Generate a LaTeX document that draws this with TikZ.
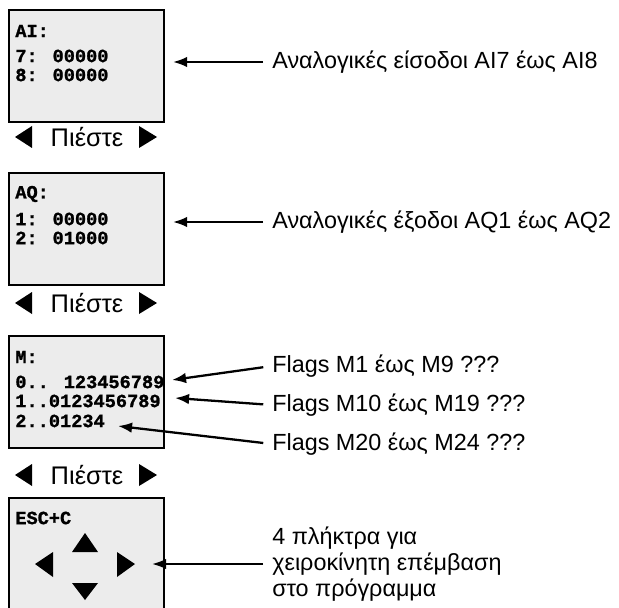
\documentclass[tikz,border=0pt]{standalone}
\usepackage{fontspec}
\setmainfont{Liberation Sans}
\newfontfamily\lcdfont{Liberation Mono}[FakeBold=1.2]
\usepackage{xcolor}
\usetikzlibrary{positioning,arrows.meta}
\definecolor{cScreen}{RGB}{236,236,236}

\tikzset{
  screen/.style={draw, line width=1pt, fill=cScreen, anchor=north west,
    minimum width=3.1cm, minimum height=2.24cm, inner sep=0pt},
  lcd/.style={anchor=west, inner sep=0pt, font=\lcdfont\bfseries\fontsize{10.6}{12}\selectfont},
  note/.style={anchor=west, inner sep=0pt, font=\fontsize{13.3}{15}\selectfont},
  press/.style={inner sep=0pt, font=\fontsize{14.5}{16}\selectfont},
  callout/.style={line width=1.3pt, -{Latex[length=8pt,width=6pt]}, shorten <=5pt},
}

\begin{document}
\begin{tikzpicture}[x=0.02cm, y=-0.02cm]
 \useasboundingbox (0,0) rectangle (619,608);
 \clip (0,0) rectangle (619,608);
 % ---- analog inputs ----
 \node[screen] (ai) at (8,9) {};
 \node[lcd] (aihead) at (15,31) {AI:};
 \node[lcd] (ai7) at (15,56) {7: 00000};
 \node[lcd] (ai8) at (15,75) {8: 00000};
 \node[note] (tai) at (272,62) {Αναλογικές είσοδοι AI7 έως AI8};
 \coordinate (tipai) at (173,62);
 \draw[callout] (tai.west) -- (tipai);
 % ---- analog outputs ----
 \node[screen] (aq) at (8,172) {};
 \node[lcd] (aqhead) at (15,194) {AQ:};
 \node[lcd] (aq1) at (15,219) {1: 00000};
 \node[lcd] (aq2) at (15,238) {2: 01000};
 \node[note] (taq) at (272,222) {Αναλογικές έξοδοι AQ1 έως AQ2};
 \coordinate (tipaq) at (173,222);
 \draw[callout] (taq.west) -- (tipaq);
 % ---- flags ----
 \node[screen] (mm) at (8,335) {};
 \node[lcd] (mhead) at (15,357) {M:};
 \node[lcd] (m0) at (15,382) {0.. 123456789};
 \node[lcd] (m1) at (15,401) {1..0123456789};
 \node[lcd] (m2) at (15,421) {2..01234};
 \node[note] (tm0) at (272,366) {Flags M1 έως M9 ???};
 \node[note] (tm1) at (272,405) {Flags M10 έως M19 ???};
 \node[note] (tm2) at (272,444) {Flags M20 έως M24 ???};
 \coordinate (tipm0) at (172,380);
 \coordinate (tipm1) at (175,398);
 \coordinate (tipm2) at (118,426);
 \draw[callout] (tm0.west) -- (tipm0);
 \draw[callout] (tm1.west) -- (tipm1);
 \draw[callout] (tm2.west) -- (tipm2);
 % ---- press rows ----
 \foreach \y/\n in {137/pa, 303/pb, 475/pc} {
   \node[press] (\n) at (87,\y) {Πιέστε};
   \fill (15,\y) -- ++(17,-11) -- ++(0,22) -- cycle;
   \fill (157,\y) -- ++(-18,-11) -- ++(0,22) -- cycle;
 }
 % ---- manual keys ----
 \node[screen, minimum height=2.6cm] (esc) at (8,497) {};
 \node[lcd] (eschead) at (15,518) {ESC+C};
 \fill (85,533) -- (72,552) -- (98,552) -- cycle;
 \fill (85,600) -- (72,583) -- (98,583) -- cycle;
 \fill (35,564) -- (53,552) -- (53,577) -- cycle;
 \fill (135,564) -- (117,552) -- (117,577) -- cycle;
 \node[note, align=left, font=\fontsize{13.3}{15}\selectfont] (tkeys) at (272,564)
   {4 πλήκτρα για\\χειροκίνητη επέμβαση\\στο πρόγραμμα};
 \coordinate (tipkeys) at (152,564);
 \draw[callout] (tkeys.west) -- (tipkeys);
\end{tikzpicture}
\end{document}
